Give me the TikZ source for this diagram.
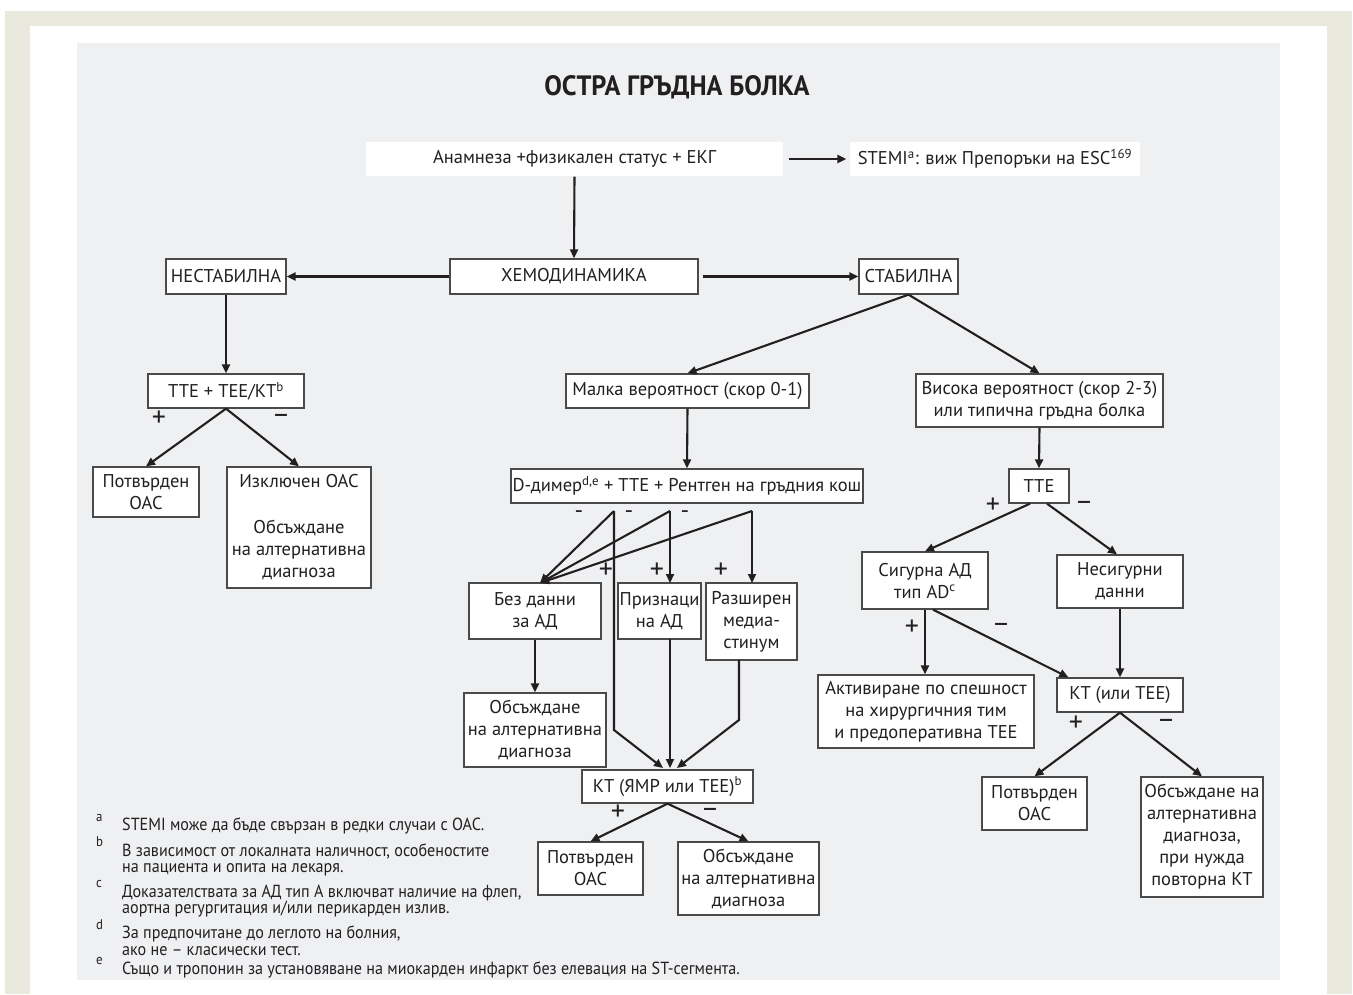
\documentclass[tikz,border=0pt]{standalone}
\usepackage{fontspec}
\setmainfont{PT Sans}
\newfontfamily\fnfont{PT Sans}[FakeStretch=0.92]
\newfontfamily\titlefont{PT Sans}[FakeStretch=0.94]
\usetikzlibrary{arrows.meta}
\definecolor{beige}{HTML}{E9EADD}
\definecolor{panel}{HTML}{EFF0F2}
\definecolor{txt}{HTML}{231F20}
\definecolor{bordc}{HTML}{4A4A4A}
\tikzset{
  box/.style={draw=bordc, fill=white, line width=1.3pt, inner sep=0pt, align=center,
    font=\fontsize{18.5}{22}\selectfont, text=txt},
  plainbox/.style={box, draw=none},
  arr/.style={draw=txt, line width=2.1pt, -{Triangle[length=9pt,width=8pt]}},
  pm/.style={font=\fontsize{28}{28}\selectfont, text=txt, inner sep=0pt},
  hy/.style={font=\fontsize{24}{24}\selectfont, text=txt, inner sep=0pt},
  fn/.style={font=\fnfont\fontsize{17.5}{17.5}\selectfont, text=txt, inner sep=0pt, anchor=base west},
  fnm/.style={font=\fnfont\fontsize{14}{14}\selectfont, text=txt, inner sep=0pt, anchor=base west}
}
\begin{document}
\begin{tikzpicture}[x=1pt,y=-1pt]
\useasboundingbox (0,0) rectangle (1353,994);
\fill[white] (0,0) rectangle (1353,994);
\fill[beige] (5,11) rectangle (1352,994);
\fill[white] (30,26) rectangle (1327,994);
\fill[panel] (77,43) rectangle (1280,980);

\node[font=\titlefont\bfseries\fontsize{28}{28}\selectfont, text=txt] (title) at (677,87) {ОСТРА ГРЪДНА БОЛКА};

% top
\node[plainbox, minimum width=417pt, minimum height=34pt] (anam) at (574.5,159) {Анамнеза +физикален статус + ЕКГ};
\node[plainbox, minimum width=290pt, minimum height=34pt] (stemi) at (995,159) {STEMI\textsuperscript{a}: виж Препоръки на ESC\textsuperscript{169}};
\node[box, minimum width=248pt, minimum height=35pt] (hemo) at (574,276.5) {ХЕМОДИНАМИКА};
\node[box, minimum width=99pt, minimum height=35pt] (stab) at (908.5,276.5) {СТАБИЛНА};
\node[box, minimum width=120pt, minimum height=35pt] (nestab) at (226,276.5) {НЕСТАБИЛНА};

% left branch
\node[box, minimum width=156pt, minimum height=34pt] (tte1) at (226,391) {ТТЕ + ТЕЕ/КТ\textsuperscript{b}};
\node[box, minimum width=106pt, minimum height=50pt] (pot1) at (146,492) {Потвърден\\ОАС};
\node[box, minimum width=144pt, minimum height=121pt] (izk) at (299,527.5) {Изключен ОАС\\[24pt]Обсъждане\\на алтернативна\\диагноза};

% middle branch
\node[box, minimum width=243pt, minimum height=34pt] (malka) at (687.5,391) {Малка вероятност (скор 0-1)};
\node[box, minimum width=352pt, minimum height=34pt] (ddim) at (687,486) {D-димер\textsuperscript{d,e} + ТТЕ + Рентген на гръдния кош};
\node[box, minimum width=132pt, minimum height=56pt] (bez) at (535,611) {Без данни\\за АД};
\node[box, minimum width=83pt, minimum height=56pt] (priz) at (659.5,611) {Признаци\\на АД};
\node[box, minimum width=91pt, minimum height=77pt] (razsh) at (751.5,621.5) {Разширен\\медиа-\\стинум};
\node[box, minimum width=142pt, minimum height=74pt] (obs1) at (535,730) {Обсъждане\\на алтернативна\\диагноза};
\node[box, minimum width=171pt, minimum height=33pt] (kt1) at (667.5,786.5) {КТ (ЯМР или ТЕЕ)\textsuperscript{b}};
\node[box, minimum width=105pt, minimum height=53pt] (pot2) at (590.5,868.5) {Потвърден\\ОАС};
\node[box, minimum width=141pt, minimum height=73pt] (obs2) at (748.5,878.5) {Обсъждане\\на алтернативна\\диагноза};

% right branch
\node[box, minimum width=247pt, minimum height=53pt] (vis) at (1039.5,400.5) {Висока вероятност (скор 2-3)\\или типична гръдна болка};
\node[box, minimum width=60pt, minimum height=34pt] (tte2) at (1039,486) {ТТЕ};
\node[box, minimum width=126pt, minimum height=57pt] (sig) at (925,580.5) {Сигурна АД\\тип AD\textsuperscript{c}};
\node[box, minimum width=126pt, minimum height=53pt] (nesig) at (1120,581.5) {Несигурни\\данни};
\node[box, minimum width=216pt, minimum height=73pt] (akt) at (926,711.5) {Активиране по спешност\\на хирургичния тим\\и предоперативна ТЕЕ};
\node[box, minimum width=126pt, minimum height=34pt] (kt2) at (1120,695) {КТ (или ТЕЕ)};
\node[box, minimum width=105pt, minimum height=53pt] (pot3) at (1034.5,803.5) {Потвърден\\ОАС};
\node[box, minimum width=122pt, minimum height=120pt] (obs3) at (1202,837) {Обсъждане на\\алтернативна\\диагноза,\\при нужда\\повторна КТ};

% connectors top
\draw[arr] ([xshift=5pt]anam.east) -- ([xshift=-3pt]stemi.west);
\draw[arr] (anam.south) -- (hemo.north);
\draw[arr] (hemo.west) -- (nestab.east);
\draw[arr] ([xshift=4pt]hemo.east) -- (stab.west);
\draw[arr] (stab.south) -- (malka.north);
\draw[arr] (stab.south) -- (vis.north);

% left
\draw[arr] (nestab.south) -- (tte1.north);
\draw[arr] (tte1.south) -- (pot1.north);
\draw[arr] (tte1.south) -- (izk.north);
\node[pm] (pl1) at (159,419) {+};
\node[pm] (mi1) at (281,419) {–};

% middle
\draw[arr] (malka.south) -- (ddim.north);
\coordinate (b1) at (614,511);
\coordinate (b2) at (670,511);
\coordinate (b3) at (752,511);
\coordinate (bezin) at (540,583);
\coordinate (prizin) at (670,583);
\coordinate (razin) at (752,583);
\coordinate (b1m) at (614,730);
\coordinate (prizout) at (670,639);
\coordinate (razout) at (739,660);
\coordinate (razm) at (739,720);
\coordinate (k1) at (663,768);
\coordinate (k2) at (670,768);
\coordinate (k3) at (677,768);
\draw[arr] (b1) -- (bezin);
\draw[arr] (b2) -- (bezin);
\draw[arr] (b3) -- (bezin);
\draw[arr] (b2) -- (prizin);
\draw[arr] (b3) -- (razin);
\draw[arr] (b1) -- (b1m) -- (k1);
\draw[arr] (prizout) -- (k2);
\draw[arr] (razout) -- (razm) -- (k3);
\node[hy] (dm1) at (579,515) {-};
\node[hy] (dm2) at (629,515) {-};
\node[hy] (dm3) at (685,515) {-};
\node[pm] (dp1) at (606,571) {+};
\node[pm] (dp2) at (657,571) {+};
\node[pm] (dp3) at (721,571) {+};
\draw[arr] (bez.south) -- (obs1.north);
\draw[arr] (kt1.south) -- (pot2.north);
\draw[arr] (kt1.south) -- (obs2.north);
\node[pm] (pl2) at (618,813) {+};
\node[pm] (mi2) at (710,813) {–};

% right
\draw[arr] (vis.south) -- (tte2.north);
\draw[arr] ([xshift=-9pt]tte2.south) -- (sig.north);
\draw[arr] ([xshift=8pt]tte2.south) -- ([xshift=-3pt]nesig.north);
\node[pm] (pl3) at (993,506) {+};
\node[pm] (mi3) at (1084,506) {–};
\draw[arr] (sig.south) -- (sig.south |- akt.north);
\draw[arr] ([xshift=8pt]sig.south) -- ([xshift=12pt]kt2.north west);
\node[pm] (pl4) at (912,628) {+};
\node[pm] (mi4) at (1001,628) {–};
\draw[arr] (nesig.south) -- (kt2.north);
\draw[arr] (kt2.south) -- (pot3.north);
\draw[arr] (kt2.south) -- (obs3.north);
\node[pm] (pl5) at (1076,724) {+};
\node[pm] (mi5) at (1166,724) {–};

% footnotes
\node[fnm] (ma) at (96,821) {a};
\node[fnm] (mb) at (96,846) {b};
\node[fnm] (mc) at (96,887) {c};
\node[fnm] (md) at (96,929) {d};
\node[fnm] (me) at (96,964) {e};
\node[fn] (fa) at (122,830) {STEMI може да бъде свързан в редки случаи с ОАС.};
\node[fn] (fb1) at (122,856) {В зависимост от локалната наличност, особеностите};
\node[fn] (fb2) at (122,872) {на пациента и опита на лекаря.};
\node[fn] (fc1) at (122,897) {Доказателствата за АД тип А включват наличие на флеп,};
\node[fn] (fc2) at (122,913) {аортна регургитация и/или перикарден излив.};
\node[fn] (fd1) at (122,938) {За предпочитане до леглото на болния,};
\node[fn] (fd2) at (122,955) {ако не – класически тест.};
\node[fn] (fe) at (122,974) {Също и тропонин за установяване на миокарден инфаркт без елевация на ST-сегмента.};
\end{tikzpicture}
\end{document}
